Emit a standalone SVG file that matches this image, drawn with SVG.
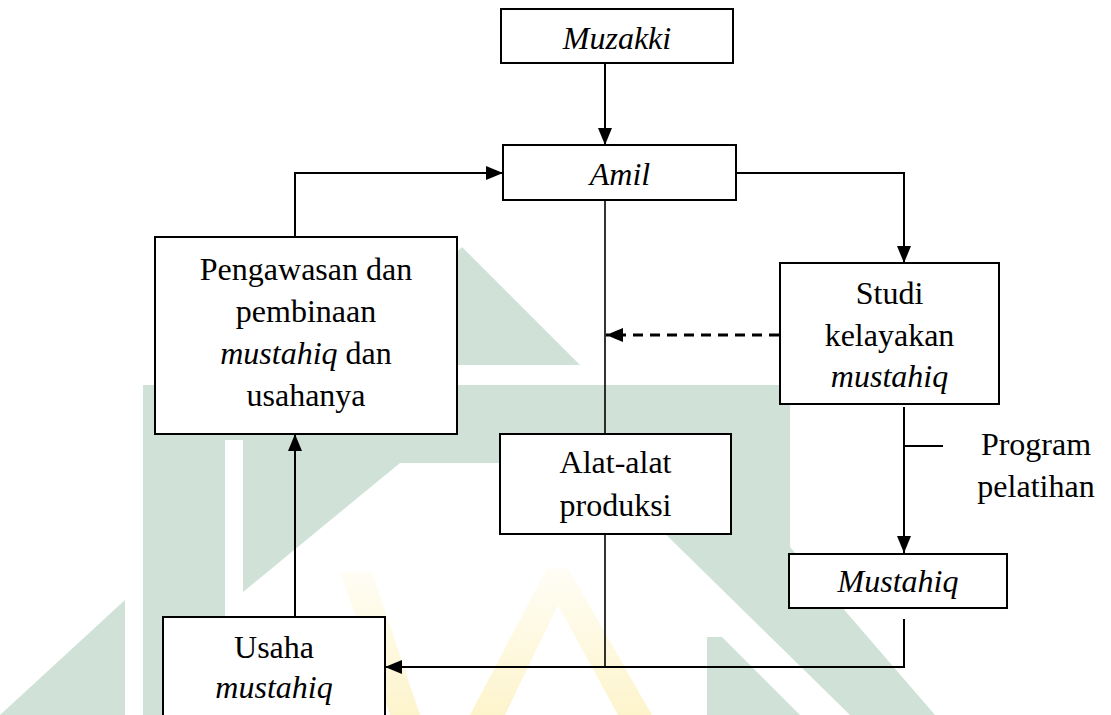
<svg xmlns="http://www.w3.org/2000/svg" width="1111" height="715" viewBox="0 0 1111 715">
<style>
.box{fill:#fff;stroke:#000;stroke-width:2}
.t{font-family:"Liberation Serif","Times New Roman",serif;font-size:32px;fill:#000;text-anchor:middle}
.i{font-style:italic}
.c{fill:none;stroke:#000;stroke-width:2}
.thin{fill:none;stroke:#000;stroke-width:1.6}
.dash{fill:none;stroke:#000;stroke-width:3;stroke-dasharray:10 7}
.wm{fill:#d0e2d7}
</style>
<defs>
<marker id="ah" markerWidth="17" markerHeight="14" refX="17" refY="7" orient="auto" markerUnits="userSpaceOnUse">
<path d="M0,0 L17,7 L0,14 z" fill="#000"/>
</marker>
<linearGradient id="yg" x1="0" y1="560" x2="0" y2="715" gradientUnits="userSpaceOnUse">
<stop offset="0" stop-color="#fffef8"/>
<stop offset="1" stop-color="#fdf4cc"/>
</linearGradient>
</defs>
<rect width="1111" height="715" fill="#fff"/>
<g id="watermark">
<polygon class="wm" points="462,247 580,365 345,365"/>
<polygon class="wm" points="143,385 790,385 790,547 935,715 850,715 593,463 400,463 243,592 243,440 225,440 225,715 143,715"/>
<polygon class="wm" points="0,715 125,600 125,715"/>
<polygon class="wm" points="707,637 722,637 800,715 707,715"/>
<polygon fill="url(#yg)" points="547,568 568,568 652,715 618,715 558,605 505,715 470,715"/>
<polygon fill="url(#yg)" points="340,572 372,572 420,715 390,715"/>
</g>
<g id="connectors">
<path class="c" d="M605,63 V145" marker-end="url(#ah)"/>
<path class="c" d="M736,173 H904 V263" marker-end="url(#ah)"/>
<path class="c" d="M295,237 V173 H503" marker-end="url(#ah)"/>
<path class="c" d="M295,617 V434" marker-end="url(#ah)"/>
<path class="thin" d="M605,200 V434"/>
<path class="dash" d="M779,335 H606" marker-end="url(#ah)"/>
<path class="c" d="M904,407 V553" marker-end="url(#ah)"/>
<path class="c" d="M904,446 H943"/>
<path class="c" d="M904,619 V667 H385" marker-end="url(#ah)"/>
<path class="thin" d="M605,534 V667"/>
</g>
<g id="muzakki">
<rect class="box" x="501" y="9" width="232" height="54"/>
<text class="t i" x="617" y="49">Muzakki</text>
</g>
<g id="amil">
<rect class="box" x="503" y="145" width="233" height="55"/>
<text class="t i" x="620" y="185">Amil</text>
</g>
<g id="pengawasan">
<rect class="box" x="155" y="237" width="302" height="197"/>
<text class="t" x="306" y="280">Pengawasan dan</text>
<text class="t" x="306" y="322">pembinaan</text>
<text class="t" x="306" y="364"><tspan class="i">mustahiq</tspan> dan</text>
<text class="t" x="306" y="406">usahanya</text>
</g>
<g id="studi">
<rect class="box" x="780" y="263" width="219" height="141"/>
<text class="t" x="889.5" y="304">Studi</text>
<text class="t" x="889.5" y="346">kelayakan</text>
<text class="t i" x="889.5" y="387">mustahiq</text>
</g>
<g id="alat">
<rect class="box" x="500" y="434" width="231" height="100"/>
<text class="t" x="615.5" y="473">Alat-alat</text>
<text class="t" x="615.5" y="516">produksi</text>
</g>
<g id="program">
<text class="t" x="1036" y="455">Program</text>
<text class="t" x="1036" y="497">pelatihan</text>
</g>
<g id="mustahiq">
<rect class="box" x="789" y="554" width="218" height="54"/>
<text class="t i" x="898" y="592">Mustahiq</text>
</g>
<g id="usaha">
<rect class="box" x="163" y="617" width="222" height="110"/>
<text class="t" x="274" y="658">Usaha</text>
<text class="t i" x="274" y="698">mustahiq</text>
</g>
</svg>
